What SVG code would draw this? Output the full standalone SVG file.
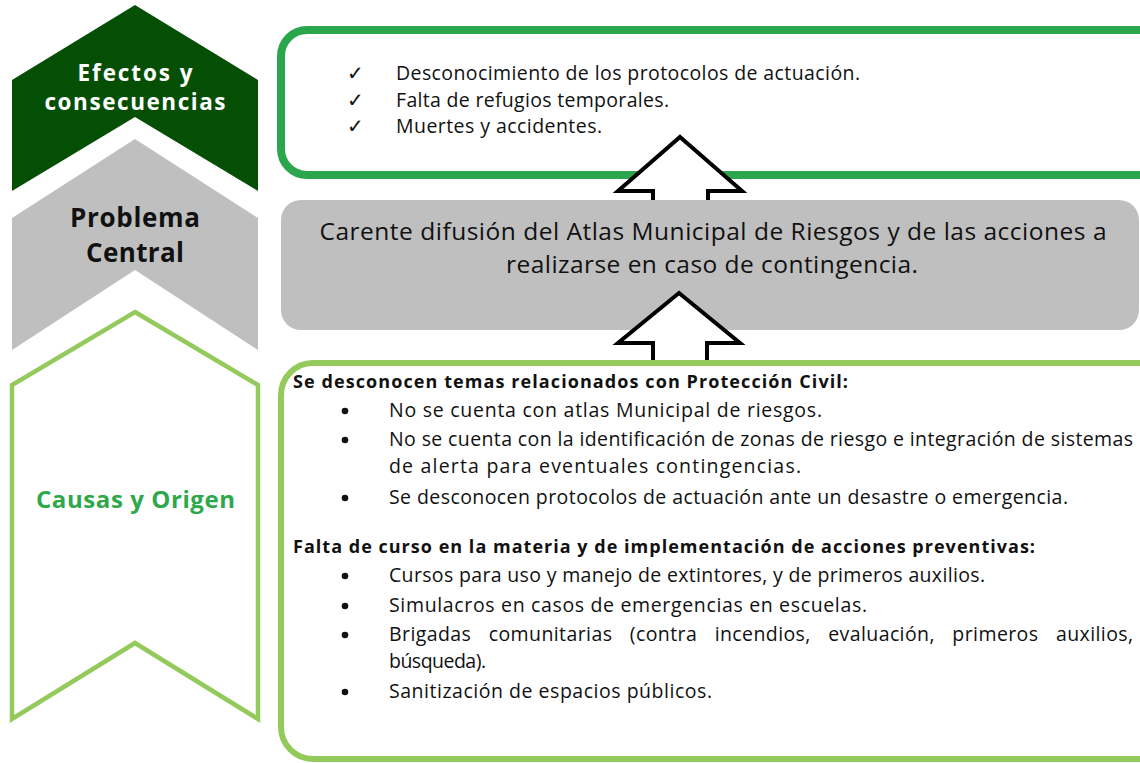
<svg xmlns="http://www.w3.org/2000/svg" width="1140" height="763" viewBox="0 0 1140 763">
<style>
.h{font-family:"Open Sans","DejaVu Sans",sans-serif;font-weight:700;text-anchor:middle}
.t{font-family:"Open Sans","DejaVu Sans",sans-serif;font-size:19.5px;fill:#111}
.g{font-family:"Open Sans","DejaVu Sans",sans-serif;font-size:24.5px;fill:#111;text-anchor:middle}
.b{font-family:"Open Sans","DejaVu Sans",sans-serif;font-size:18px;font-weight:700;fill:#111}
.ck{font-family:"DejaVu Sans",sans-serif;font-size:20px;fill:#111}
.arrow{fill:#fff;stroke:#000;stroke-width:4;stroke-linejoin:miter}
</style>
<rect width="1140" height="763" fill="#fff"/>

<g id="efectos">
<polygon points="135,5 258,80 258,191 135,117 12,191 12,80" fill="#054f05"/>
<text class="h" x="135" y="81" font-size="22.5" fill="#fff" textLength="115" lengthAdjust="spacing">Efectos y</text>
<text class="h" x="135" y="110" font-size="22.5" fill="#fff" textLength="181" lengthAdjust="spacing">consecuencias</text>
</g>

<g id="problema">
<polygon points="135,139 258,218 258,350 135,270 12,350 12,218" fill="#bfbfbf"/>
<text class="h" x="135" y="227" font-size="26" fill="#111" textLength="130" lengthAdjust="spacing">Problema</text>
<text class="h" x="135" y="262" font-size="26" fill="#111" textLength="98" lengthAdjust="spacing">Central</text>
</g>

<g id="causas">
<polygon points="135,312 258,385 258,719 135,643 12,719 12,385" fill="#fff" stroke="#94c95c" stroke-width="4.5"/>
<text class="h" x="135.5" y="508" font-size="24" fill="#2ea84a" textLength="199" lengthAdjust="spacing">Causas y Origen</text>
</g>

<g id="efectos-box">
<rect x="281" y="30" width="900" height="145" rx="26" fill="#fff" stroke="#2ca64c" stroke-width="8"/>
<text class="ck" x="347" y="80">✓</text>
<text class="ck" x="347" y="107">✓</text>
<text class="ck" x="347" y="133">✓</text>
<text class="t" x="396" y="80" textLength="464" lengthAdjust="spacing">Desconocimiento de los protocolos de actuación.</text>
<text class="t" x="396" y="107" textLength="273" lengthAdjust="spacing">Falta de refugios temporales.</text>
<text class="t" x="396" y="133" textLength="206" lengthAdjust="spacing">Muertes y accidentes.</text>
</g>

<g id="connectors">
<polygon class="arrow" points="680,137 742,191 708,191 708,210 653,210 653,191 618,191"/>
</g>

<g id="problema-box">
<rect x="281" y="200" width="858" height="130" rx="20" fill="#bfbfbf"/>
<text class="g" x="713" y="240" textLength="787" lengthAdjust="spacing">Carente difusión del Atlas Municipal de Riesgos y de las acciones a</text>
<text class="g" x="712" y="273" textLength="412" lengthAdjust="spacing">realizarse en caso de contingencia.</text>
</g>

<g id="connectors2">
<polygon class="arrow" points="679,293 740,343 707,343 707,370 653,370 653,343 618,343"/>
</g>

<g id="causas-box">
<rect x="281" y="363" width="900" height="396" rx="32" fill="#fff" stroke="#94c95c" stroke-width="6"/>
<text class="b" x="293" y="388" textLength="555" lengthAdjust="spacing">Se desconocen temas relacionados con Protección Civil:</text>
<g fill="#111">
<circle cx="345" cy="411" r="3.3"/>
<circle cx="345" cy="440" r="3.3"/>
<circle cx="345" cy="498" r="3.3"/>
<circle cx="345" cy="576" r="3.3"/>
<circle cx="345" cy="606" r="3.3"/>
<circle cx="345" cy="635" r="3.3"/>
<circle cx="345" cy="692" r="3.3"/>
</g>
<text class="t" x="389" y="417" textLength="433" lengthAdjust="spacing">No se cuenta con atlas Municipal de riesgos.</text>
<text class="t" x="389" y="446" textLength="744" lengthAdjust="spacing">No se cuenta con la identificación de zonas de riesgo e integración de sistemas</text>
<text class="t" x="389" y="473" textLength="412" lengthAdjust="spacing">de alerta para eventuales contingencias.</text>
<text class="t" x="389" y="504" textLength="679" lengthAdjust="spacing">Se desconocen protocolos de actuación ante un desastre o emergencia.</text>
<text class="b" x="293" y="553" textLength="742" lengthAdjust="spacing">Falta de curso en la materia y de implementación de acciones preventivas:</text>
<text class="t" x="389" y="582" textLength="596" lengthAdjust="spacing">Cursos para uso y manejo de extintores, y de primeros auxilios.</text>
<text class="t" x="389" y="612" textLength="478" lengthAdjust="spacing">Simulacros en casos de emergencias en escuelas.</text>
<text class="t" x="389" y="641" word-spacing="12" textLength="744" lengthAdjust="spacing">Brigadas comunitarias (contra incendios, evaluación, primeros auxilios,</text>
<text class="t" x="389" y="668" textLength="97" lengthAdjust="spacing">búsqueda).</text>
<text class="t" x="389" y="698" textLength="323" lengthAdjust="spacing">Sanitización de espacios públicos.</text>
</g>
</svg>
